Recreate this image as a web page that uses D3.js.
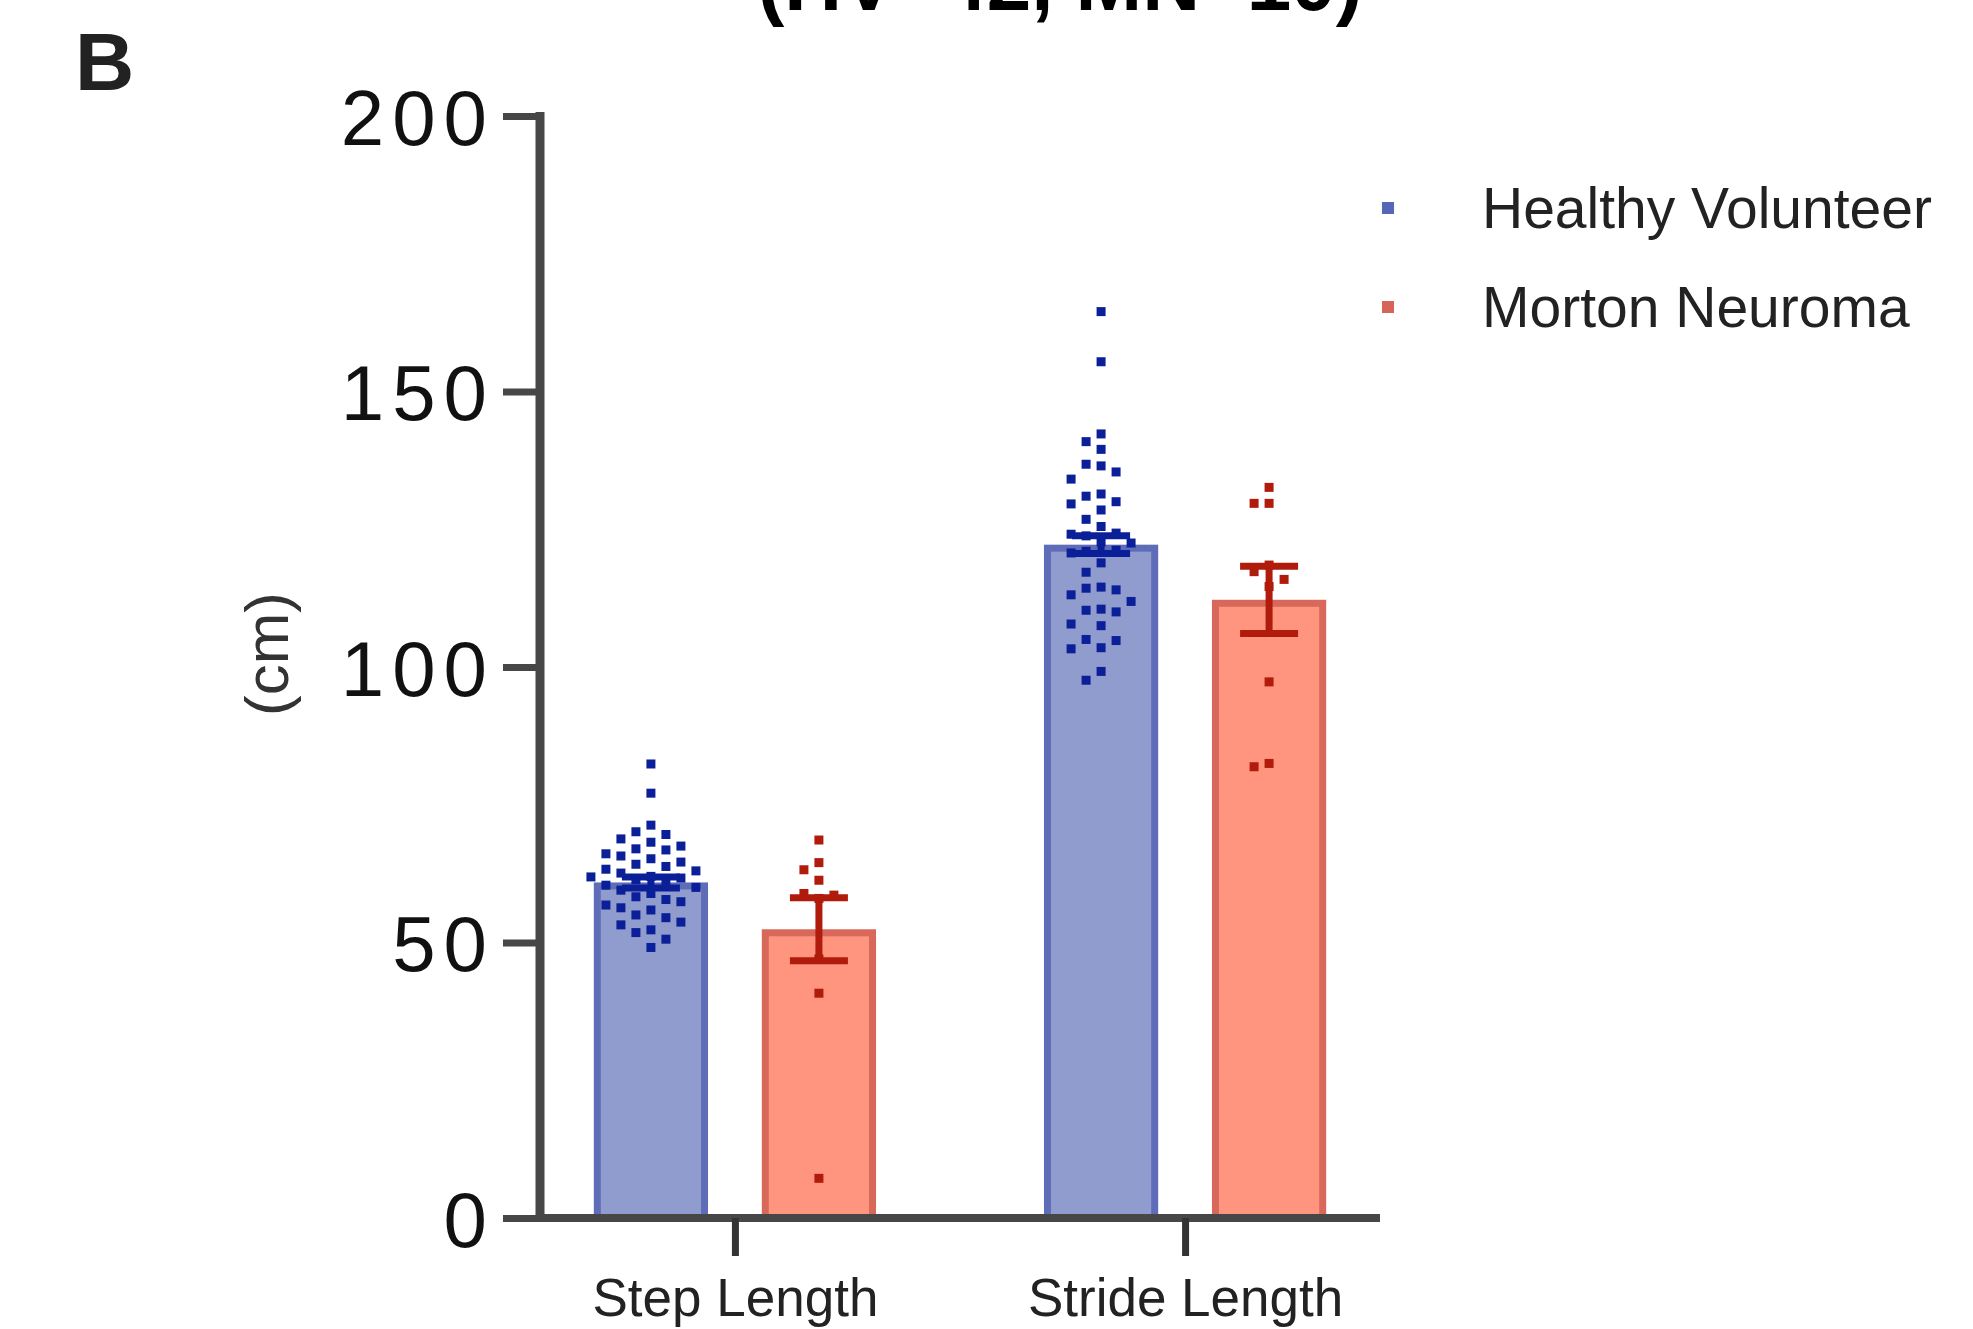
<!DOCTYPE html>
<html>
<head>
<meta charset="utf-8">
<script src="https://cdn.jsdelivr.net/npm/d3@7"></script>
<style>
  body { margin: 0; background: #fff; }
  text { font-family: "Liberation Sans", Arial, Helvetica, sans-serif; }
</style>
</head>
<body>
<svg id="chart" width="1973" height="1329"></svg>
<script>
const categories = ['Step Length', 'Stride Length'];
const groups = ['Healthy Volunteer', 'Morton Neuroma'];
const yTicks = [0, 50, 100, 150, 200];

// bar heights (mean) and error (SEM)
const hvMean = [60.9, 122.2];
const hvSem = [1.0, 1.6];
const mnMean = [52.4, 112.2];
const mnSem = [5.7, 6.1];

// individual subjects
const hvStep = [82.4, 77.1, 71.3, 70.1, 69.6, 68.8, 68.2, 67.5, 67.0, 66.8, 66.1, 65.7, 65.2, 64.6,
  64.2, 63.8, 63.3, 63.0, 62.6, 62.0, 61.9, 61.7, 61.4, 61.0, 60.4, 60.0, 59.5, 58.9, 58.3, 57.8,
  57.4, 56.8, 56.3, 55.9, 55.0, 54.5, 53.7, 53.2, 52.3, 51.8, 50.6, 49.1];
const hvStride = [164.5, 155.4, 142.3, 140.9, 139.5, 136.8, 136.5, 135.4, 134.1, 131.4, 131.0, 130.0,
  129.6, 128.5, 126.8, 125.5, 124.3, 124.1, 123.8, 122.7, 122.5, 121.2, 121.0, 120.7, 118.9, 117.2,
  114.5, 114.3, 114.0, 113.1, 111.9, 110.5, 110.3, 110.0, 107.8, 107.5, 105.0, 104.8, 103.5, 103.3,
  99.2, 97.6];
const mnStep = [68.6, 64.5, 63.2, 61.3, 58.9, 58.6, 58.0, 47.0, 40.8, 7.2];
const mnStride = [132.6, 129.7, 129.7, 118.5, 117.3, 115.9, 114.6, 97.3, 82.5, 81.9];

const colors = {
  'Healthy Volunteer': { fill: '#919cce', stroke: '#5f6db8', dot: '#0b1f98', legend: '#5866b8' },
  'Morton Neuroma': { fill: '#ff947f', stroke: '#d8685a', dot: '#b11b0b', legend: '#d6645a' }
};

const bars = [];
categories.forEach((c, i) => {
  bars.push({ cat: c, group: groups[0], mean: hvMean[i], sem: hvSem[i], pts: i === 0 ? hvStep : hvStride });
  bars.push({ cat: c, group: groups[1], mean: mnMean[i], sem: mnSem[i], pts: i === 0 ? mnStep : mnStride });
});

const svg = d3.select('#chart');
const axisX = 540;
const axisEnd = 1380;

const y = d3.scaleLinear().domain([0, 200]).range([1218, 116]);
const x = d3.scalePoint().domain(categories).range([axisX, axisEnd]).padding(0.433);
const sub = d3.scaleBand().domain(groups).range([-168, 168]).padding(0);
const barW = sub.bandwidth() * 0.68;
const sw = 7;

const g = svg.append('g');

// bars
g.selectAll('.bar')
  .data(bars)
  .enter()
  .append('rect')
  .attr('class', 'bar')
  .attr('x', d => x(d.cat) + sub(d.group) + (sub.bandwidth() - barW) / 2 + sw / 2)
  .attr('y', d => y(d.mean) + sw / 2)
  .attr('width', barW - sw)
  .attr('height', d => y(0) - y(d.mean) - sw / 2)
  .attr('fill', d => colors[d.group].fill)
  .attr('stroke', d => colors[d.group].stroke)
  .attr('stroke-width', sw);

// simple beeswarm so dots don't sit on top of each other
function swarm(vals, cx, dx, dy) {
  const placed = [];
  vals.forEach(v => {
    const py = y(v);
    for (let k = 0; k < 40; k++) {
      const off = (k % 2 === 0 ? 1 : -1) * Math.ceil(k / 2) * dx;
      const hit = placed.some(p => Math.abs(p.y - py) < dy && Math.abs(p.x - (cx + off)) < dx * 0.99);
      if (!hit) { placed.push({ x: cx + off, y: py }); break; }
    }
  });
  return placed;
}

const dotSize = 9;
bars.forEach(b => {
  const cx = x(b.cat) + sub(b.group) + sub.bandwidth() / 2;
  const pts = swarm(b.pts, cx, 15, 15);
  g.selectAll(null)
    .data(pts)
    .enter()
    .append('rect')
    .attr('x', d => d.x - dotSize / 2)
    .attr('y', d => d.y - dotSize / 2)
    .attr('width', dotSize)
    .attr('height', dotSize)
    .attr('fill', colors[b.group].dot);
});

// error bars
const capW = 58;
const err = g.selectAll('.err')
  .data(bars)
  .enter()
  .append('g')
  .attr('class', 'err')
  .attr('transform', d => `translate(${x(d.cat) + sub(d.group) + sub.bandwidth() / 2},0)`)
  .attr('stroke', d => colors[d.group].dot)
  .attr('stroke-width', 7);

err.append('line')
  .attr('y1', d => y(d.mean - d.sem))
  .attr('y2', d => y(d.mean + d.sem));
err.append('line')
  .attr('x1', -capW / 2).attr('x2', capW / 2)
  .attr('y1', d => y(d.mean + d.sem)).attr('y2', d => y(d.mean + d.sem));
err.append('line')
  .attr('x1', -capW / 2).attr('x2', capW / 2)
  .attr('y1', d => y(d.mean - d.sem)).attr('y2', d => y(d.mean - d.sem));

// y axis
const yAxis = d3.axisLeft(y)
  .tickValues(yTicks)
  .tickSize(37)
  .tickPadding(16)
  .tickSizeOuter(0);

const ya = svg.append('g')
  .attr('transform', `translate(${axisX},0)`)
  .call(yAxis);
ya.select('.domain').attr('stroke', '#474747').attr('stroke-width', 9)
  .attr('d', `M0,${y(200) - 4}V${y(0)}`);
ya.selectAll('.tick line').attr('stroke', '#474747').attr('stroke-width', 7);
ya.selectAll('.tick text')
  .attr('fill', '#111')
  .attr('dy', '0.36em')
  .attr('dx', 8)
  .style('font-size', '78px')
  .style('letter-spacing', '8px');

// x axis
const xAxis = d3.axisBottom(x)
  .tickSize(38)
  .tickPadding(22)
  .tickSizeOuter(0);

const xa = svg.append('g')
  .attr('transform', `translate(0,${y(0)})`)
  .call(xAxis);
xa.select('.domain').attr('stroke', '#474747').attr('stroke-width', 8)
  .attr('d', `M${axisX - 4},0H${axisEnd}`);
xa.selectAll('.tick line').attr('stroke', '#333').attr('stroke-width', 7);
xa.selectAll('.tick text')
  .attr('fill', '#222')
  .style('font-size', '53px');

// y label
svg.append('text')
  .attr('transform', 'translate(288,654) rotate(-90)')
  .attr('text-anchor', 'middle')
  .attr('fill', '#333')
  .style('font-size', '62px')
  .text('(cm)');

// panel letter and cut-off title
svg.append('text')
  .attr('x', 75).attr('y', 90)
  .attr('font-weight', 'bold')
  .attr('fill', '#222')
  .style('font-size', '82px')
  .text('B');

svg.append('text')
  .attr('x', 1060).attr('y', 10)
  .attr('text-anchor', 'middle')
  .attr('font-weight', 'bold')
  .attr('fill', '#000')
  .style('font-size', '80px')
  .text('(HV=42, MN=10)');

// legend
const legend = svg.append('g')
  .selectAll('g')
  .data(groups)
  .enter()
  .append('g')
  .attr('transform', (d, i) => `translate(1388,${208 + i * 99})`);

legend.append('rect')
  .attr('x', -6).attr('y', -6)
  .attr('width', 12).attr('height', 12)
  .attr('fill', d => colors[d].legend);

legend.append('text')
  .attr('x', 94)
  .attr('y', 20)
  .attr('fill', '#222')
  .style('font-size', '57px')
  .text(d => d);
</script>
</body>
</html>
